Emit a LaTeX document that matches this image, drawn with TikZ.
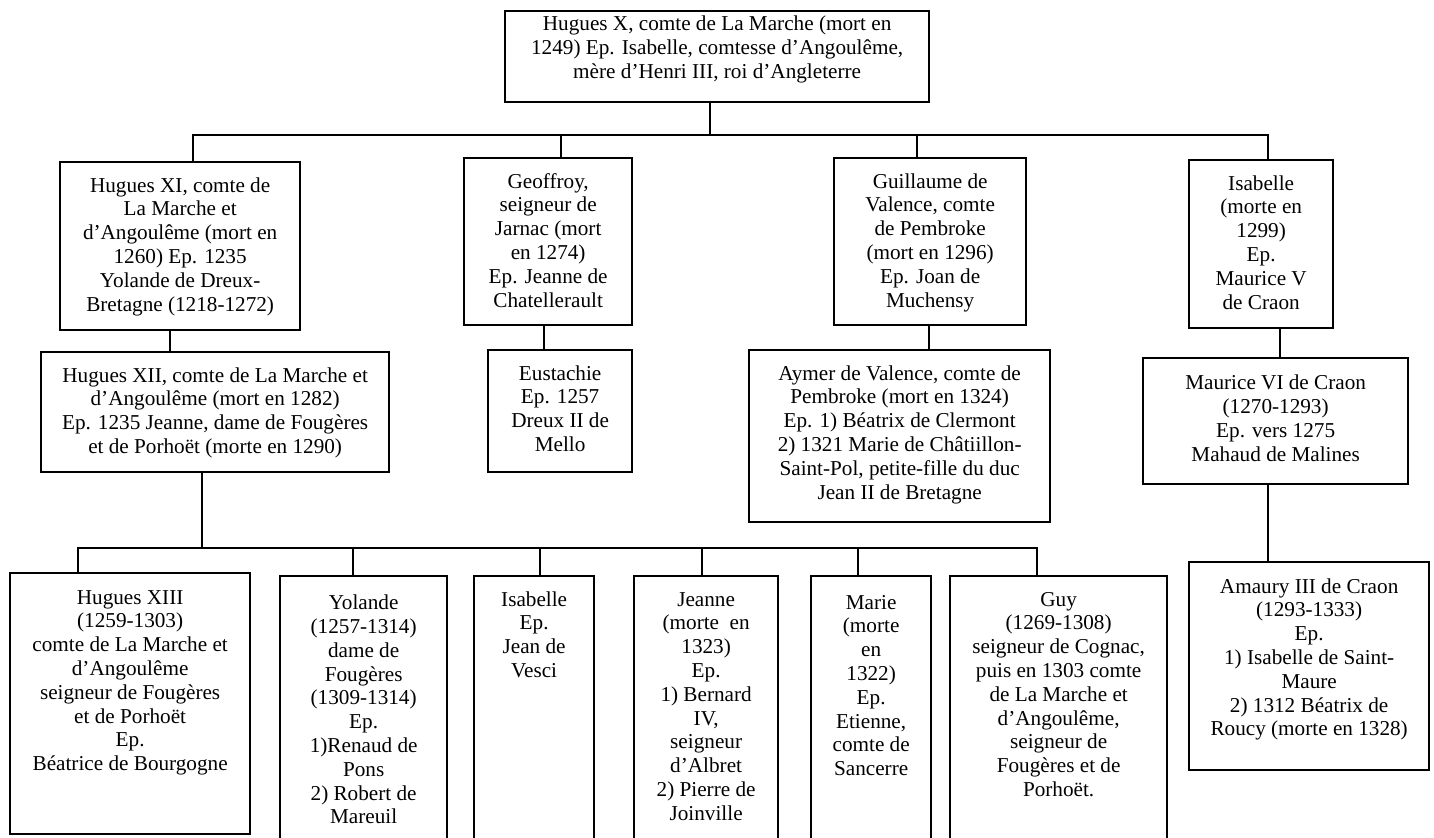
\documentclass[tikz,border=0pt]{standalone}
\usepackage{fontspec}
\setmainfont{Liberation Serif}

% one drawing unit = one pixel of the 1434 x 837 sheet
\newlength{\pxu}
\setlength{\pxu}{0.5pt}

% box contents: width, height (in pixels), top padding (pt), text
\newcommand{\famcell}[4]{%
  \parbox[c][#2\pxu][t]{#1\pxu}{\centering\vspace*{#3pt}\strut #4}}

\tikzset{
  person/.style={draw, line width=1.15pt, inner sep=0pt, anchor=north west,
    font=\fontsize{10.6}{11.9}\selectfont},
  link/.style={line width=1pt}
}

\begin{document}
\begin{tikzpicture}[x=0.5pt, y=-0.5pt]
\useasboundingbox (0,0) rectangle (1434,837);
\clip (0,0) rectangle (1434,837);

% ---------- generation 1
\node[person] (top) at (504,10) {\famcell{424}{91}{1.3}{Hugues X, comte de La Marche (mort en\\1249) Ep. Isabelle, comtesse d’Angoulême,\\mère d’Henri III, roi d’Angleterre}};

% ---------- generation 2
\node[person] (h11) at (59,161) {\famcell{240}{168}{6.6}{Hugues XI, comte de\\La Marche et\\d’Angoulême (mort en\\1260) Ep. 1235\\Yolande de Dreux-\\Bretagne (1218-1272)}};
\node[person] (geof) at (463,157) {\famcell{168}{167}{6.6}{Geoffroy,\\seigneur de\\Jarnac (mort\\en 1274)\\Ep. Jeanne de\\Chatellerault}};
\node[person] (guil) at (833,157) {\famcell{192}{167}{6.6}{Guillaume de\\Valence, comte\\de Pembroke\\(mort en 1296)\\Ep. Joan de\\Muchensy}};
\node[person] (isa) at (1188,159) {\famcell{144}{168}{6.6}{Isabelle\\(morte en\\1299)\\Ep.\\Maurice V\\de Craon}};

% ---------- generation 3
\node[person] (h12) at (40,351) {\famcell{348}{120}{6.6}{Hugues XII, comte de La Marche et\\d’Angoulême (mort en 1282)\\Ep. 1235 Jeanne, dame de Fougères\\et de Porhoët (morte en 1290)}};
\node[person] (eust) at (487,349) {\famcell{144}{122}{6.6}{Eustachie\\Ep. 1257\\Dreux II de\\Mello}};
\node[person] (aymer) at (748,349) {\famcell{301}{172}{6.6}{Aymer de Valence, comte de\\Pembroke (mort en 1324)\\Ep. 1) Béatrix de Clermont\\2) 1321 Marie de Châtiillon-\\Saint-Pol, petite-fille du duc\\Jean II de Bretagne}};
\node[person] (maur) at (1142,357) {\famcell{265}{126}{7.4}{Maurice VI de Craon\\(1270-1293)\\Ep. vers 1275\\Mahaud de Malines}};

% ---------- generation 4
\node[person] (h13) at (9,572) {\famcell{240}{261}{7.1}{Hugues XIII\\(1259-1303)\\comte de La Marche et\\d’Angoulême\\seigneur de Fougères\\et de Porhoët\\Ep.\\Béatrice de Bourgogne}};
\node[person] (yol) at (279,575) {\famcell{167}{275}{8.4}{Yolande\\(1257-1314)\\dame de\\Fougères\\(1309-1314)\\Ep.\\1)Renaud de\\Pons\\2) Robert de\\Mareuil}};
\node[person] (isa2) at (473,575) {\famcell{120}{275}{6.6}{Isabelle\\Ep.\\Jean de\\Vesci}};
\node[person] (jean) at (633,575) {\famcell{144}{275}{6.6}{Jeanne\\(morte\ \ en\\1323)\\Ep.\\1) Bernard\\IV,\\seigneur\\d’Albret\\2) Pierre de\\Joinville}};
\node[person] (marie) at (810,575) {\famcell{120}{275}{8.1}{Marie\\(morte\\en\\1322)\\Ep.\\Etienne,\\comte de\\Sancerre}};
\node[person] (guy) at (949,575) {\famcell{217}{275}{6.6}{Guy\\(1269-1308)\\seigneur de Cognac,\\puis en 1303 comte\\de La Marche et\\d’Angoulême,\\seigneur de\\Fougères et de\\Porhoët.}};
\node[person] (amau) at (1188,561) {\famcell{240}{208}{7.1}{Amaury III de Craon\\(1293-1333)\\Ep.\\1) Isabelle de Saint-\\Maure\\2) 1312 Béatrix de\\Roucy (morte en 1328)}};

% ---------- connector columns and bus lines
\coordinate (j-top) at (710,134.5);
\coordinate (bus1w) at (193,134.5);
\coordinate (bus1e) at (1268,134.5);
\coordinate (d-geof) at (561,134.5);
\coordinate (d-guil) at (917,134.5);
\coordinate (c-h12) at (170,0);
\coordinate (c-eust) at (544,0);
\coordinate (c-aymer) at (929,0);
\coordinate (c-maur) at (1280,0);
\coordinate (c-amau) at (1268,0);
\coordinate (j-h12) at (202,548);
\coordinate (bus2w) at (78,548);
\coordinate (bus2e) at (1037,548);
\coordinate (d-yol) at (353,548);
\coordinate (d-isa2) at (540,548);
\coordinate (d-jean) at (702,548);
\coordinate (d-marie) at (858,548);

% children of Hugues X
\draw[link] (j-top |- top.south) -- (j-top);
\draw[link] (bus1w |- h11.north) -- (bus1w) -- (bus1e) -- (bus1e |- isa.north);
\draw[link] (d-geof) -- (d-geof |- geof.north);
\draw[link] (d-guil) -- (d-guil |- guil.north);

% single descents
\draw[link] (c-h12 |- h11.south) -- (c-h12 |- h12.north);
\draw[link] (c-eust |- geof.south) -- (c-eust |- eust.north);
\draw[link] (c-aymer |- guil.south) -- (c-aymer |- aymer.north);
\draw[link] (c-maur |- isa.south) -- (c-maur |- maur.north);
\draw[link] (c-amau |- maur.south) -- (c-amau |- amau.north);

% children of Hugues XII
\draw[link] (j-h12 |- h12.south) -- (j-h12);
\draw[link] (bus2w |- h13.north) -- (bus2w) -- (bus2e) -- (bus2e |- guy.north);
\draw[link] (d-yol) -- (d-yol |- yol.north);
\draw[link] (d-isa2) -- (d-isa2 |- isa2.north);
\draw[link] (d-jean) -- (d-jean |- jean.north);
\draw[link] (d-marie) -- (d-marie |- marie.north);
\end{tikzpicture}
\end{document}
